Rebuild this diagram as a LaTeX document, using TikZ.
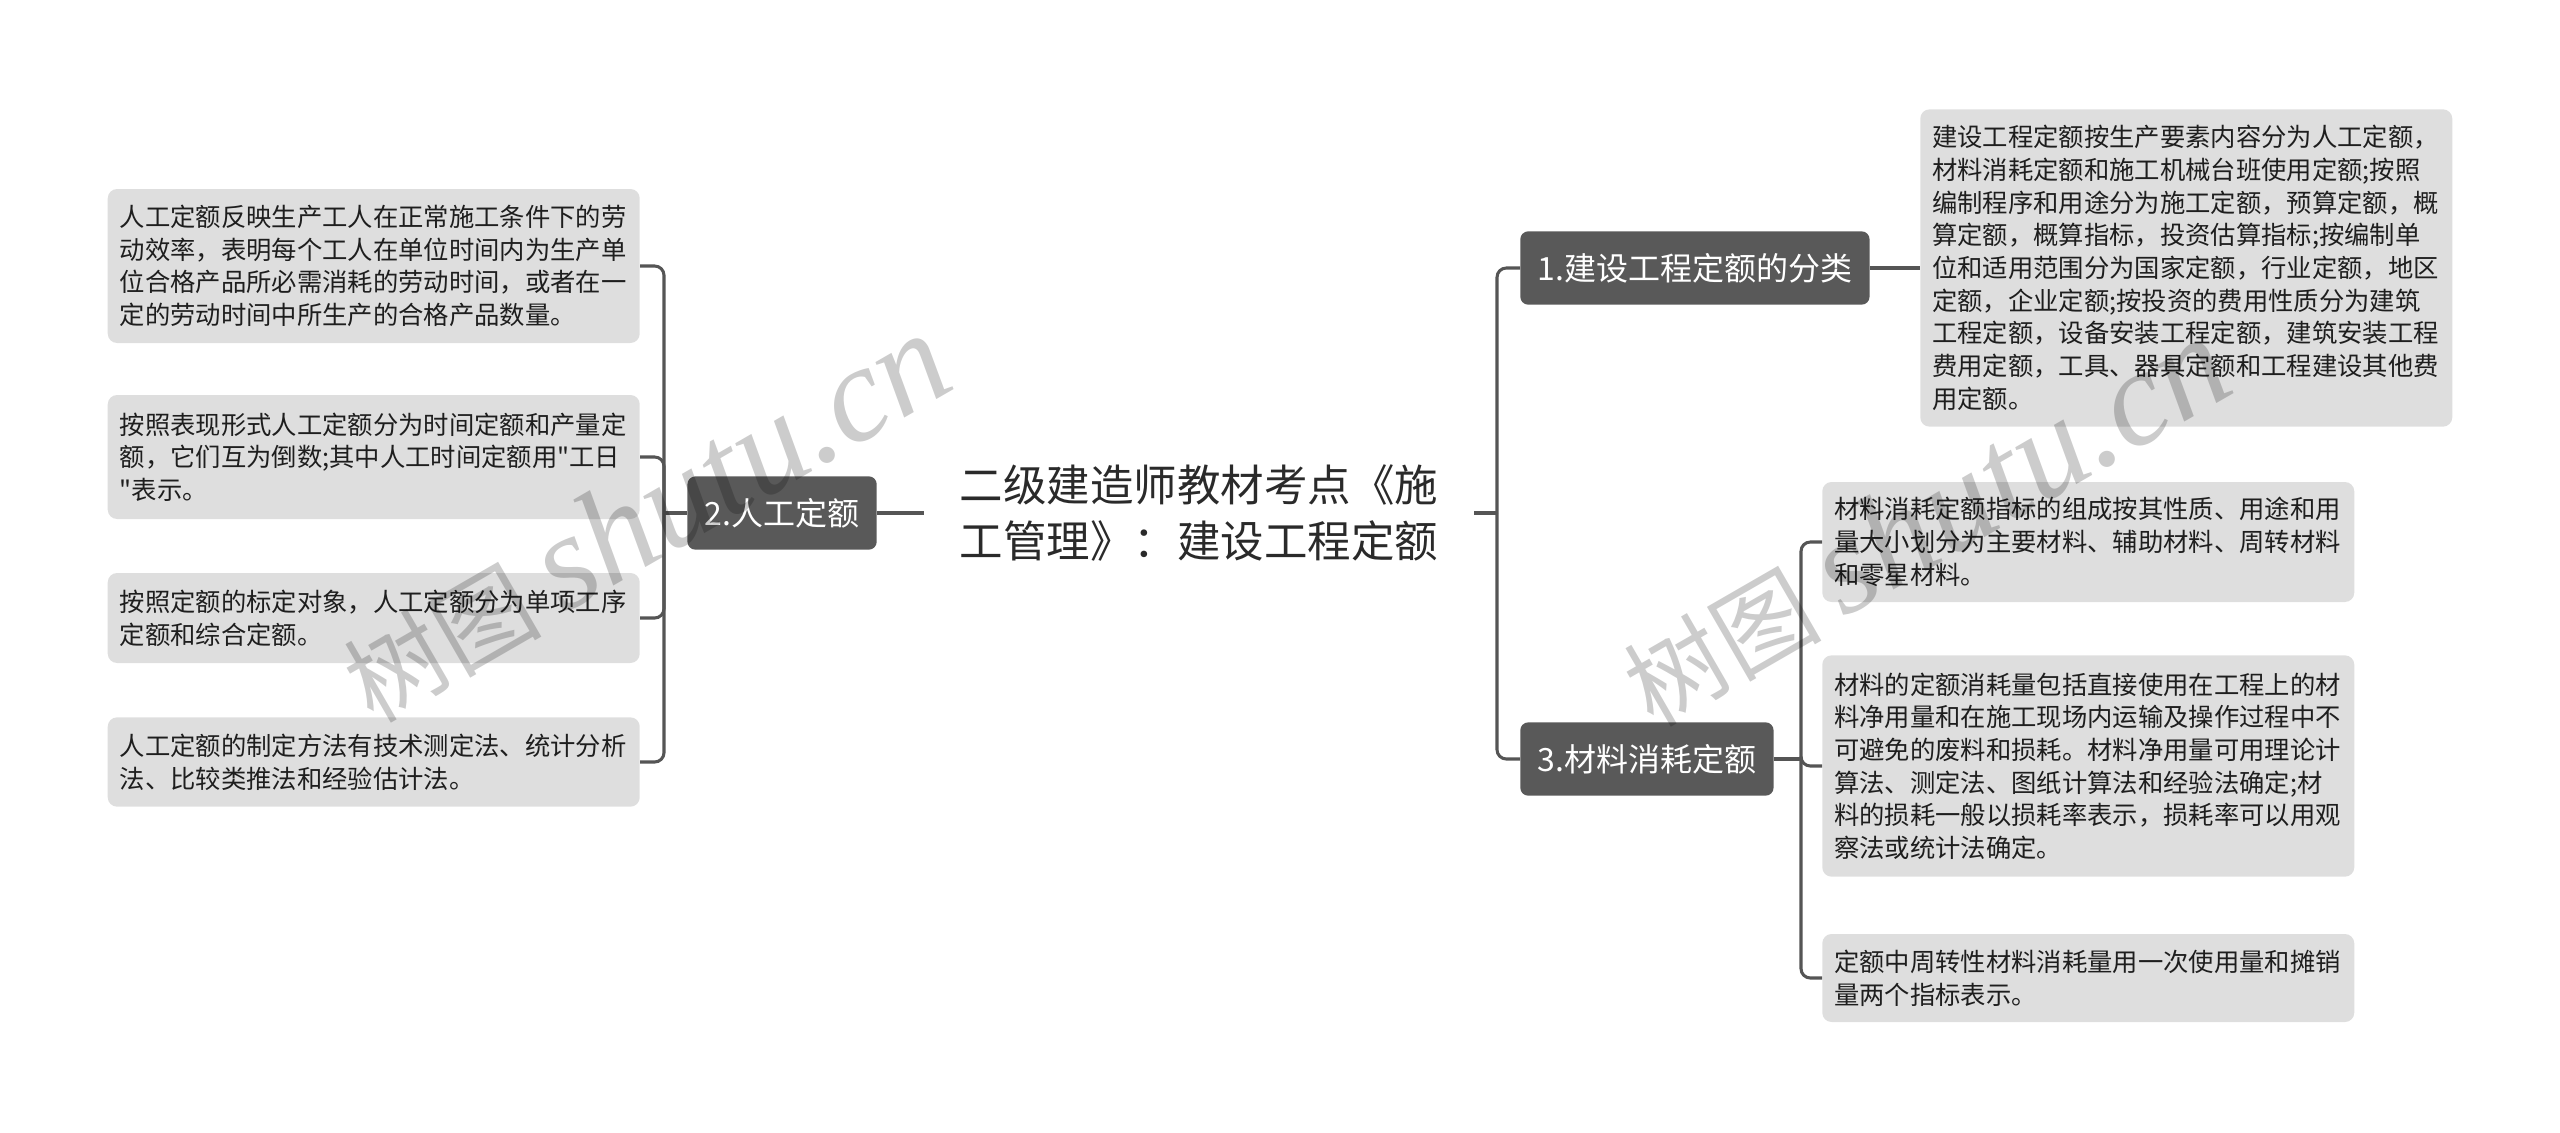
\documentclass[tikz,border=0pt]{standalone}
\usepackage{fontspec}
\setmainfont{Noto Sans CJK SC}[Ligatures=TeXOff]
\newfontfamily\wmlatin{Liberation Serif}
\definecolor{boxdark}{HTML}{595959}
\definecolor{leafgray}{HTML}{DEDEDE}
\definecolor{linegray}{HTML}{555555}
\definecolor{leaftext}{HTML}{1E1E1E}
\definecolor{roottext}{HTML}{2A2A2A}
\begin{document}
\begin{tikzpicture}[x=0.75pt,y=-0.75pt,
  leaf/.style={fill=leafgray, rounded corners=7pt, text width=381pt, align=left,
    inner xsep=9pt, inner ysep=0pt, text=leaftext,
    font=\fontsize{19pt}{24.5pt}\selectfont},
  mainbox/.style={fill=boxdark, rounded corners=6pt, text=white, inner xsep=13pt,
    inner ysep=0pt, minimum height=55pt, font=\fontsize{24pt}{28pt}\selectfont},
  conn/.style={draw=linegray, line width=2.3pt, rounded corners=7pt},
  wm/.style={text=black, opacity=0.2, rotate=30, inner sep=0pt}]
\useasboundingbox (0,0) rectangle (2560,1132);

% root
\node[align=center, text=roottext, inner xsep=27pt, inner ysep=4pt,
  font=\fontsize{32.6pt}{41.6pt}\selectfont] (root) at (1199,513)
  {二级建造师教材考点《施\\工管理》：建设工程定额};

% main branches
\node[mainbox, anchor=east] (b2) at (877,513) {2.人工定额};
\node[mainbox, anchor=west] (b1) at (1520,268) {1.建设工程定额的分类};
\node[mainbox, anchor=west] (b3) at (1520,759) {3.材料消耗定额};

% left leaves
\node[leaf, anchor=east, minimum height=115.5pt] (l1) at (640,266)
  {人工定额反映生产工人在正常施工条件下的劳\\动效率，表明每个工人在单位时间内为生产单\\位合格产品所必需消耗的劳动时间，或者在一\\定的劳动时间中所生产的合格产品数量。};
\node[leaf, anchor=east, minimum height=93pt] (l2) at (640,457)
  {按照表现形式人工定额分为时间定额和产量定\\额，它们互为倒数;其中人工时间定额用"工日\\"表示。};
\node[leaf, anchor=east, minimum height=67.5pt] (l3) at (640,618)
  {按照定额的标定对象，人工定额分为单项工序\\定额和综合定额。};
\node[leaf, anchor=east, minimum height=67pt] (l4) at (640,762)
  {人工定额的制定方法有技术测定法、统计分析\\法、比较类推法和经验估计法。};

% right leaves
\node[leaf, anchor=west, minimum height=238pt] (r1) at (1920,268)
  {建设工程定额按生产要素内容分为人工定额，\\材料消耗定额和施工机械台班使用定额;按照\\编制程序和用途分为施工定额，预算定额，概\\算定额，概算指标，投资估算指标;按编制单\\位和适用范围分为国家定额，行业定额，地区\\定额，企业定额;按投资的费用性质分为建筑\\工程定额，设备安装工程定额，建筑安装工程\\费用定额，工具、器具定额和工程建设其他费\\用定额。};
\node[leaf, anchor=west, minimum height=90pt] (ra) at (1822,542)
  {材料消耗定额指标的组成按其性质、用途和用\\量大小划分为主要材料、辅助材料、周转材料\\和零星材料。};
\node[leaf, anchor=west, minimum height=166pt] (rb) at (1822,766)
  {材料的定额消耗量包括直接使用在工程上的材\\料净用量和在施工现场内运输及操作过程中不\\可避免的废料和损耗。材料净用量可用理论计\\算法、测定法、图纸计算法和经验法确定;材\\料的损耗一般以损耗率表示，损耗率可以用观\\察法或统计法确定。};
\node[leaf, anchor=west, minimum height=66pt] (rc) at (1822,978)
  {定额中周转性材料消耗量用一次使用量和摊销\\量两个指标表示。};

% junctions
\coordinate (j2) at (664,513);
\coordinate (j1) at (1497,513);
\coordinate (j3) at (1801,759);

% connectors
\draw[conn] (root.west) -- (b2.east);
\draw[conn] (b2.west) -- (j2);
\foreach \t in {l1,l2,l3,l4} \draw[conn] (j2) |- (\t.east);
\draw[conn] (root.east) -- (j1);
\draw[conn] (j1) |- (b1.west);
\draw[conn] (j1) |- (b3.west);
\draw[conn] (b1.east) -- (r1.west);
\draw[conn] (b3.east) -- (j3);
\foreach \t in {ra,rb,rc} \draw[conn] (j3) |- (\t.west);

% watermarks
\node[wm, font=\fontsize{74pt}{74pt}\selectfont] (wmL) at (645,518)
  {树图 {\wmlatin\itshape\fontsize{102pt}{102pt}\selectfont shutu.cn}};
\node[wm, font=\fontsize{74pt}{74pt}\selectfont] (wmR) at (1925,522)
  {树图 {\wmlatin\itshape\fontsize{102pt}{102pt}\selectfont shutu.cn}};
\end{tikzpicture}
\end{document}
